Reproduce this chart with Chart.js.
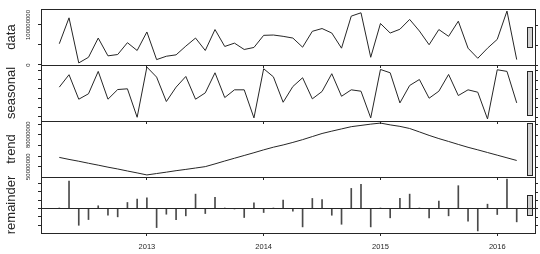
<!DOCTYPE html>
<html>
<head>
<meta charset="utf-8">
<script src="https://cdn.jsdelivr.net/npm/chart.js@4.4.1/dist/chart.umd.min.js"></script>
<style>
    html, body { margin: 0; padding: 0; background: #fff; }
    #wrap { position: relative; width: 540px; height: 254px; }
    #wrap canvas { position: absolute; left: 0; top: 0; }
</style>
</head>
<body>
<div id="wrap">
    <canvas id="cData" width="540" height="254"></canvas>
    <canvas id="cSeasonal" width="540" height="254"></canvas>
    <canvas id="cTrend" width="540" height="254"></canvas>
    <canvas id="cRemainder" width="540" height="254"></canvas>
</div>
<script>
/* =========================
   Data (monthly, Apr 2012 - Mar 2016), values in millions
========================= */
const startTime = 2012 + 3 / 12;
const frequency = 12;
const unit = 1e6;

const dataValues = [
    53.1, 117.9, 5.1, 19.2, 67.3, 22.8, 26.1, 55.7, 36.2, 82.5, 13.4, 21.8,
    25.3, 47.1, 67.3, 36.2, 88.6, 46.3, 54.6, 38.7, 43.8, 74.1, 74.9, 71.6,
    67.3, 44.5, 84.2, 91.1, 79.9, 42.0, 122.2, 130.5, 19.2, 103.7, 79.9, 89.3,
    113.9, 85.0, 50.6, 88.6, 71.6, 109.5, 42.0, 16.7, 42.0, 64.0, 134.8, 13.4
];
const seasonalValues = [
    1.9, 15.4, -11.2, -5.3, 19.0, -11.2, -0.7, 0.1, -30.8, 23.7, 12.8, -13.7,
    1.9, 13.5, -11.2, -4.3, 17.5, -9.4, -1.0, -1.0, -31.5, 21.9, 13.1, -14.5,
    2.6, 12.1, -10.8, -2.8, 16.5, -8.0, -1.0, -2.5, -31.5, 21.1, 17.5, -15.2,
    3.7, 10.2, -10.1, -2.5, 15.7, -7.2, -1.0, -3.6, -32.6, 20.8, 19.0, -15.2
];
const trendValues = [
    58.7, 56.8, 55.1, 53.2, 51.4, 49.5, 47.8, 45.9, 44.1, 42.2, 43.5, 44.8,
    46.2, 47.4, 48.7, 50.0, 52.6, 55.3, 57.9, 60.5, 63.1, 65.8, 68.3, 70.4,
    72.8, 75.4, 78.3, 81.2, 83.4, 85.5, 87.6, 88.8, 90.0, 91.0, 89.3, 87.9,
    85.9, 82.7, 79.4, 76.4, 73.7, 70.9, 68.2, 65.8, 63.3, 60.8, 58.3, 55.8
];
const remainderValues = [
    0.5, 64.7, -39.6, -26.1, 6.4, -15.9, -19.7, 14.2, 22.0, 25.4, -45.0, -13.5,
    -26.1, -17.3, 33.9, -11.9, 26.1, 0.5, -0.5, -21.3, 13.5, -9.5, 0.3, 19.7,
    -6.4, -43.4, 23.7, 21.3, -15.9, -37.2, 47.4, 56.9, -43.4, 0.3, -22.0, 23.7,
    33.9, 0.5, -22.0, 17.3, -17.3, 53.8, -30.1, -52.9, 10.2, -14.2, 69.4, -31.5
];

const yearTicks = [2013, 2014, 2015, 2016];

const dataTicks = [0, 50, 100];
const dataTickLabels = [0, 100];
const seasonalTicks = [-30, -20, -10, 0, 10, 20];
const seasonalTickLabels = [];
const trendTicks = [50, 60, 70, 80, 90];
const trendTickLabels = [50, 80];
const remainderTicks = [-40, -20, 0, 20, 40, 60];
const remainderTickLabels = [];


/* =========================
   Helpers
========================= */
const FONT = '"Liberation Sans", Arial, Helvetica, sans-serif';
const INK = "#262626";

function seriesRange(v) {
    return [Math.min(...v), Math.max(...v)];
}

const allSeries = [dataValues, seasonalValues, trendValues, remainderValues];
const barSpan = Math.min(...allSeries.map(v => {
    const r = seriesRange(v);
    return r[1] - r[0];
}));

const n = dataValues.length;
const tFirst = startTime;
const tLast = startTime + (n - 1) / frequency;
const xPad = (tLast - tFirst) * 0.04;


/* =========================
   Panel decorations (box, range bar, ticks)
========================= */
const panelPlugin = {
    id: "panel",
    afterDraw(chart, args, o) {
        const ctx = chart.ctx;
        const a = chart.chartArea;
        const y = chart.scales.y;
        ctx.save();
        ctx.lineWidth = 1;
        ctx.strokeStyle = INK;

        // range bar
        const r = seriesRange(o.values);
        const mid = (r[0] + r[1]) / 2;
        const dx = (a.right - a.left) / 64;
        const yTop = Math.round(y.getPixelForValue(mid + barSpan / 2));
        const yBot = Math.round(y.getPixelForValue(mid - barSpan / 2));
        const bx = Math.round(a.right - dx) + 0.5;
        const bw = Math.round(0.6 * dx);
        ctx.fillStyle = "#d3d3d3";
        ctx.fillRect(bx, yTop + 0.5, bw, yBot - yTop);
        ctx.strokeRect(bx, yTop + 0.5, bw, yBot - yTop);

        // zero line
        if (o.zeroLine) {
            const z = Math.round(y.getPixelForValue(0)) + 0.5;
            ctx.beginPath();
            ctx.moveTo(a.left, z);
            ctx.lineTo(a.right, z);
            ctx.stroke();
        }

        // box
        ctx.strokeRect(Math.round(a.left) + 0.5, Math.round(a.top) + 0.5,
            Math.round(a.right - a.left), Math.round(a.bottom - a.top));

        // right side ticks
        ctx.beginPath();
        o.ticks.forEach(t => {
            const py = Math.round(y.getPixelForValue(t)) + 0.5;
            ctx.moveTo(a.right, py);
            ctx.lineTo(a.right + 3, py);
        });
        ctx.stroke();

        // left tick labels, rotated like R
        ctx.fillStyle = INK;
        ctx.font = "6px " + FONT;
        ctx.textAlign = "center";
        ctx.textBaseline = "middle";
        o.tickLabels.forEach(t => {
            const py = y.getPixelForValue(t);
            ctx.save();
            ctx.translate(a.left - 12.5, py);
            ctx.rotate(-Math.PI / 2);
            ctx.fillText(String(Math.round(t * unit)), 0, 0);
            ctx.restore();
        });
        ctx.restore();
    }
};


/* =========================
   Panels
========================= */
function makePanel(p) {
    const r = seriesRange(p.values);
    const pad = (r[1] - r[0]) * 0.04;
    const xh = p.last ? 254 - p.bottom : 0;
    const points = p.values.map((v, i) => ({ x: startTime + i / frequency, y: v }));

    const dataset = p.kind === "bar"
        ? { type: "bar", data: points, backgroundColor: "#4a4a4a", borderWidth: 0, barThickness: 1 }
        : { type: "line", data: points, borderColor: INK, borderWidth: 1, pointRadius: 0, tension: 0, fill: false };

    new Chart(document.getElementById(p.id), {
        type: p.kind === "bar" ? "bar" : "line",
        data: { datasets: [dataset] },
        options: {
            responsive: false,
            animation: false,
            devicePixelRatio: 1,
            events: [],
            layout: { padding: { left: 0, right: 5, top: p.top, bottom: 254 - p.bottom - xh } },
            plugins: {
                legend: { display: false },
                tooltip: { enabled: false },
                panel: { values: p.values, ticks: p.ticks, tickLabels: p.tickLabels, zeroLine: p.kind === "bar" }
            },
            scales: {
                x: {
                    type: "linear",
                    offset: false,
                    min: tFirst - xPad,
                    max: tLast + xPad,
                    afterBuildTicks: s => { s.ticks = yearTicks.map(v => ({ value: v })); },
                    afterFit: s => { s.height = xh; },
                    grid: { display: true, offset: false, drawOnChartArea: false, drawTicks: true, tickLength: 3, color: INK, lineWidth: 1 },
                    border: { display: false },
                    ticks: {
                        display: !!p.last,
                        autoSkip: false,
                        maxRotation: 0,
                        padding: 6,
                        color: INK,
                        font: { family: FONT, size: 7.5 },
                        callback: v => String(v)
                    }
                },
                y: {
                    type: "linear",
                    min: r[0] - pad,
                    max: r[1] + pad,
                    afterBuildTicks: s => { s.ticks = p.ticks.map(v => ({ value: v })); },
                    afterFit: s => { s.width = 41; },
                    grid: { display: true, drawOnChartArea: false, drawTicks: true, tickLength: 3, color: INK, lineWidth: 1 },
                    border: { display: false },
                    ticks: { display: false },
                    title: {
                        display: true,
                        text: p.name,
                        color: INK,
                        font: { family: FONT, size: 13 },
                        padding: { top: 4, bottom: 0 }
                    }
                }
            }
        },
        plugins: [panelPlugin]
    });
}

makePanel({ id: "cData", name: "data", values: dataValues, ticks: dataTicks, tickLabels: dataTickLabels, top: 9, bottom: 65 });
makePanel({ id: "cSeasonal", name: "seasonal", values: seasonalValues, ticks: seasonalTicks, tickLabels: seasonalTickLabels, top: 65, bottom: 121 });
makePanel({ id: "cTrend", name: "trend", values: trendValues, ticks: trendTicks, tickLabels: trendTickLabels, top: 121, bottom: 177 });
makePanel({ id: "cRemainder", name: "remainder", values: remainderValues, ticks: remainderTicks, tickLabels: remainderTickLabels, top: 177, bottom: 233, kind: "bar", last: true });
</script>
</body>
</html>
